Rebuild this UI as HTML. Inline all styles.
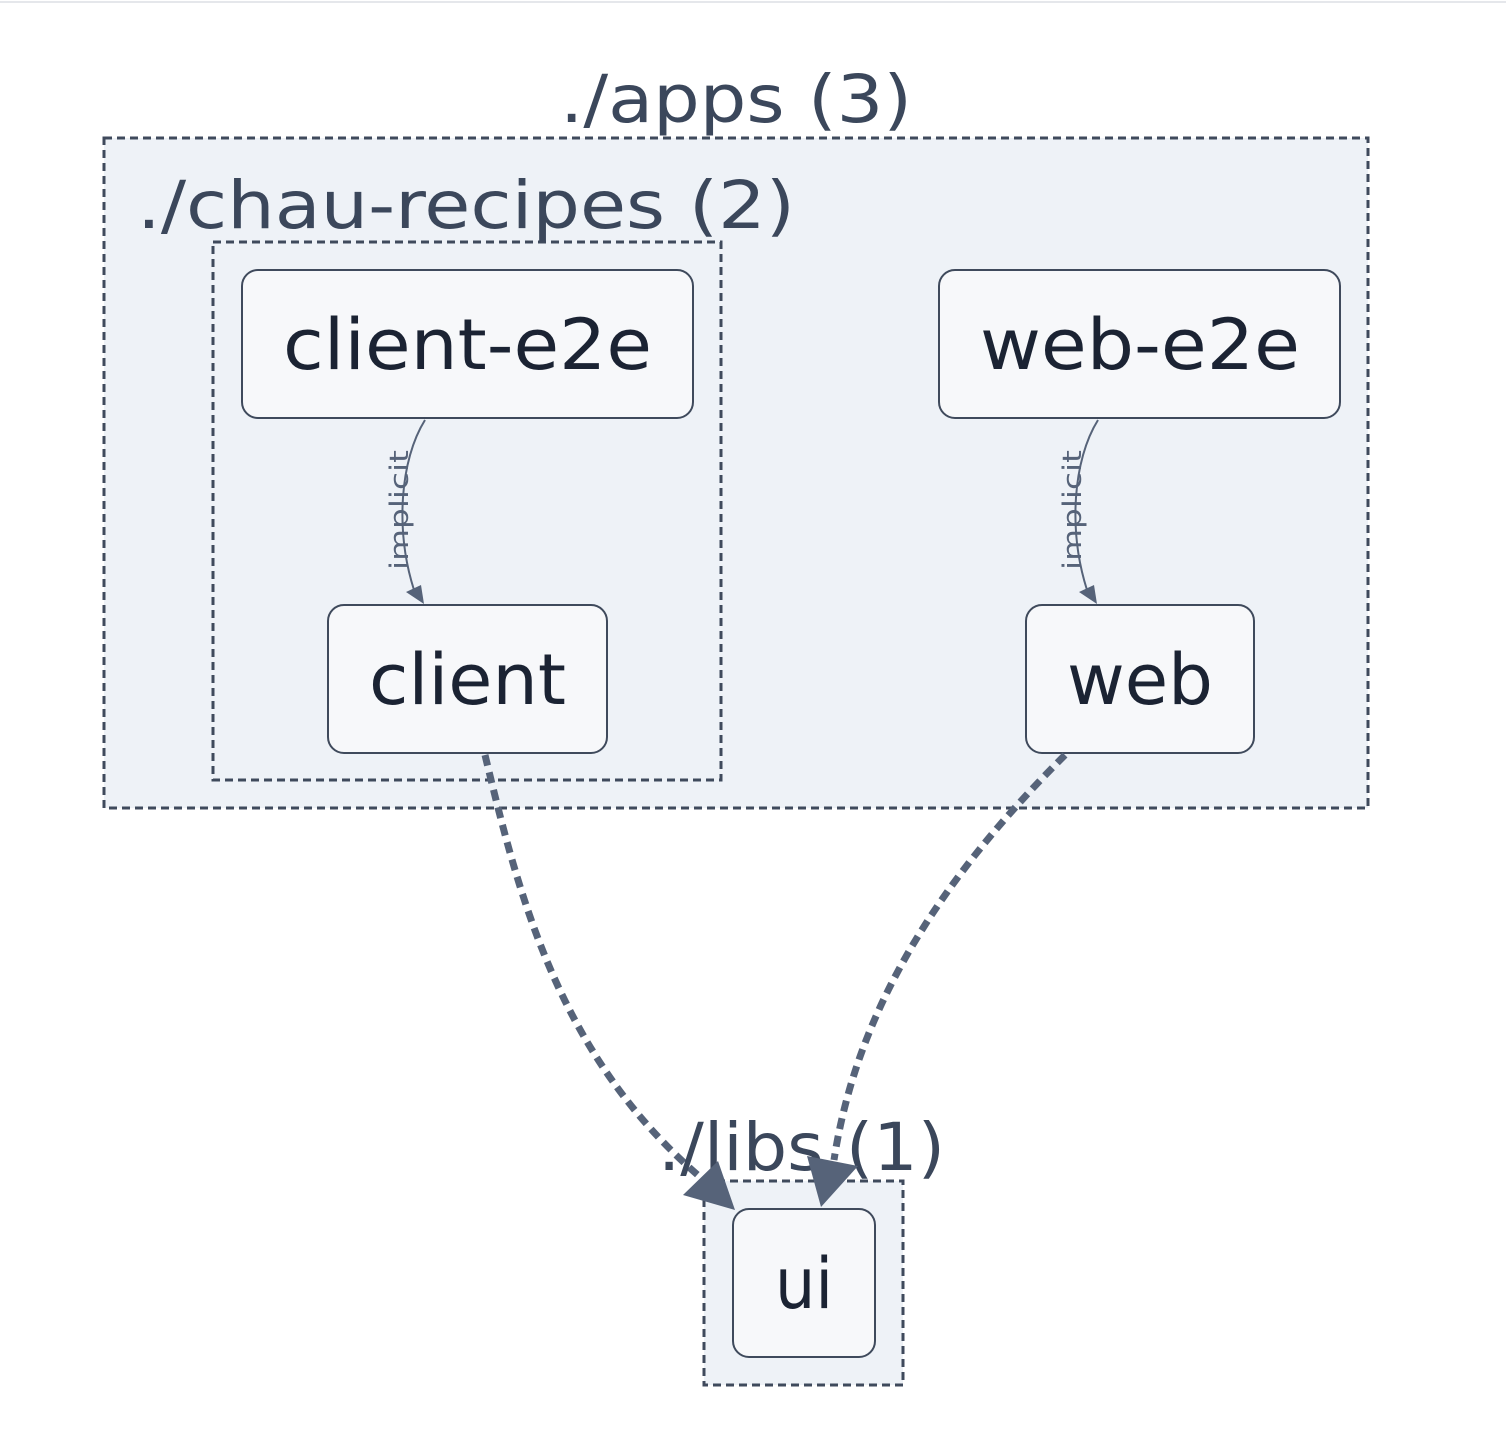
<!DOCTYPE html>
<html><head><style>
html,body{margin:0;padding:0;background:#fff;}
svg{display:block;}
text{font-family:"DejaVu Sans","Liberation Sans",sans-serif;}
</style></head><body>
<svg width="1506" height="1434" viewBox="0 0 1506 1434">
<line x1="0" y1="2" x2="1506" y2="2" stroke="#e5e7eb" stroke-width="2"/>
<rect x="104" y="138" width="1264" height="670" fill="#eef2f7" stroke="#3f4a5c" stroke-width="3" stroke-dasharray="8,5"/>
<text x="560" y="122" font-size="66" fill="#3b475b" textLength="352" lengthAdjust="spacingAndGlyphs">./apps (3)</text>
<rect x="213" y="242" width="508" height="538" fill="#eef2f7" stroke="#3f4a5c" stroke-width="3" stroke-dasharray="8,5"/>
<text x="137" y="228" font-size="66" fill="#3b475b" textLength="658" lengthAdjust="spacingAndGlyphs">./chau-recipes (2)</text>
<rect x="704" y="1181" width="199" height="204" fill="#eef2f7" stroke="#3f4a5c" stroke-width="3" stroke-dasharray="8,5"/>

<g fill="#f7f8fa" stroke="#3f4a5c" stroke-width="2">
<rect x="242" y="270" width="451" height="148" rx="16"/>
<rect x="939" y="270" width="401" height="148" rx="16"/>
<rect x="328" y="605" width="279" height="148" rx="16"/>
<rect x="1026" y="605" width="228" height="148" rx="16"/>
<rect x="733" y="1209" width="142" height="148" rx="16"/>
</g>
<g font-size="70" fill="#1b2333">
<text x="283" y="369" textLength="369" lengthAdjust="spacingAndGlyphs">client-e2e</text>
<text x="980" y="369" textLength="320" lengthAdjust="spacingAndGlyphs">web-e2e</text>
<text x="369" y="704" textLength="197" lengthAdjust="spacingAndGlyphs">client</text>
<text x="1067" y="704" textLength="146" lengthAdjust="spacingAndGlyphs">web</text>
<text x="775" y="1308" textLength="58" lengthAdjust="spacingAndGlyphs">ui</text>
</g>

<g stroke="#566379" stroke-width="2" fill="none">
<path d="M425,420 C400,460 395,530 414,590"/>
<path d="M1098,420 C1073,460 1068,530 1087,590"/>
</g>
<g fill="#566379">
<polygon points="424,604 406,592 421,585"/>
<polygon points="1097,604 1079,592 1094,585"/>
</g>
<g font-size="26" fill="#566379">
<text transform="translate(408,570) rotate(-90)" textLength="120" lengthAdjust="spacingAndGlyphs">implicit</text>
<text transform="translate(1081,570) rotate(-90)" textLength="120" lengthAdjust="spacingAndGlyphs">implicit</text>
</g>

<g stroke="#566379" stroke-width="7" fill="none" stroke-dasharray="11,7">
<path d="M485,755 C520,900 560,1060 706,1182"/>
<path d="M1065,755 C960,860 860,990 834,1160"/>
</g>
<text x="658" y="1170" font-size="66" fill="#3b475b" textLength="287" lengthAdjust="spacingAndGlyphs">./libs (1)</text>
<g fill="#566379">
<polygon points="735,1210 683,1195 718,1161"/>
<polygon points="821,1207 807,1156 858,1166"/>
</g>
</svg>
</body></html>
